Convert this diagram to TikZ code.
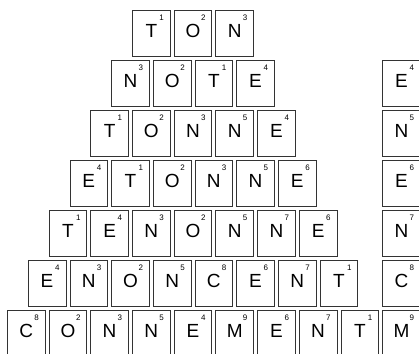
\documentclass[tikz,border=0pt]{standalone}
\usepackage{fontspec}
\setmainfont{Liberation Sans}
\usepackage{tikz}
\usetikzlibrary{positioning}
\usepackage{xcolor}
\definecolor{tileedge}{HTML}{333333}

\begin{document}
\begin{tikzpicture}[
    x=1pt, y=1pt,
    node distance=4pt,
    every node/.style={font=\fontsize{19}{19}\selectfont},
    tile/.style={draw=tileedge, line width=0.8pt, minimum width=37.7pt, minimum height=46pt, inner sep=0pt, outer sep=0pt, text height=13.6pt, text depth=5pt},
    num/.style={font=\fontsize{8}{8}\selectfont, anchor=center, xshift=-8.5pt, yshift=-8pt, inner sep=0pt}
]
    \useasboundingbox (0,0) rectangle (419,-353);

    % TON
    \node[tile, label={[num]north east:1}] (a1) at (151.3,-33) {T};
    \node[tile, label={[num]north east:2}, right=of a1] (a2) {O};
    \node[tile, label={[num]north east:3}, right=of a2] (a3) {N};

    % NOTE
    \node[tile, label={[num]north east:3}, below=of a1, xshift=-20.85pt] (b1) {N};
    \node[tile, label={[num]north east:2}, right=of b1] (b2) {O};
    \node[tile, label={[num]north east:1}, right=of b2] (b3) {T};
    \node[tile, label={[num]north east:4}, right=of b3] (b4) {E};

    % TONNE
    \node[tile, label={[num]north east:1}, below=of b1, xshift=-20.85pt] (c1) {T};
    \node[tile, label={[num]north east:2}, right=of c1] (c2) {O};
    \node[tile, label={[num]north east:3}, right=of c2] (c3) {N};
    \node[tile, label={[num]north east:5}, right=of c3] (c4) {N};
    \node[tile, label={[num]north east:4}, right=of c4] (c5) {E};

    % ETONNE
    \node[tile, label={[num]north east:4}, below=of c1, xshift=-20.85pt] (d1) {E};
    \node[tile, label={[num]north east:1}, right=of d1] (d2) {T};
    \node[tile, label={[num]north east:2}, right=of d2] (d3) {O};
    \node[tile, label={[num]north east:3}, right=of d3] (d4) {N};
    \node[tile, label={[num]north east:5}, right=of d4] (d5) {N};
    \node[tile, label={[num]north east:6}, right=of d5] (d6) {E};

    % TENONNE
    \node[tile, label={[num]north east:1}, below=of d1, xshift=-20.85pt] (e1) {T};
    \node[tile, label={[num]north east:4}, right=of e1] (e2) {E};
    \node[tile, label={[num]north east:3}, right=of e2] (e3) {N};
    \node[tile, label={[num]north east:2}, right=of e3] (e4) {O};
    \node[tile, label={[num]north east:5}, right=of e4] (e5) {N};
    \node[tile, label={[num]north east:7}, right=of e5] (e6) {N};
    \node[tile, label={[num]north east:6}, right=of e6] (e7) {E};

    % ENONCENT
    \node[tile, label={[num]north east:4}, below=of e1, xshift=-20.85pt] (f1) {E};
    \node[tile, label={[num]north east:3}, right=of f1] (f2) {N};
    \node[tile, label={[num]north east:2}, right=of f2] (f3) {O};
    \node[tile, label={[num]north east:5}, right=of f3] (f4) {N};
    \node[tile, label={[num]north east:8}, right=of f4] (f5) {C};
    \node[tile, label={[num]north east:6}, right=of f5] (f6) {E};
    \node[tile, label={[num]north east:7}, right=of f6] (f7) {N};
    \node[tile, label={[num]north east:1}, right=of f7] (f8) {T};

    % CONNEMENTM
    \node[tile, label={[num]north east:8}, below=of f1, xshift=-20.85pt] (g1) {C};
    \node[tile, label={[num]north east:2}, right=of g1] (g2) {O};
    \node[tile, label={[num]north east:3}, right=of g2] (g3) {N};
    \node[tile, label={[num]north east:5}, right=of g3] (g4) {N};
    \node[tile, label={[num]north east:4}, right=of g4] (g5) {E};
    \node[tile, label={[num]north east:9}, right=of g5] (g6) {M};
    \node[tile, label={[num]north east:6}, right=of g6] (g7) {E};
    \node[tile, label={[num]north east:7}, right=of g7] (g8) {N};
    \node[tile, label={[num]north east:1}, right=of g8] (g9) {T};
    \node[tile, label={[num]north east:9}, right=of g9] (g10) {M};

    % side column
    \node[tile, label={[num]north east:8}, above=of g10] (s6) {C};
    \node[tile, label={[num]north east:7}, above=of s6] (s5) {N};
    \node[tile, label={[num]north east:6}, above=of s5] (s4) {E};
    \node[tile, label={[num]north east:5}, above=of s4] (s3) {N};
    \node[tile, label={[num]north east:4}, above=of s3] (s2) {E};
\end{tikzpicture}
\end{document}
